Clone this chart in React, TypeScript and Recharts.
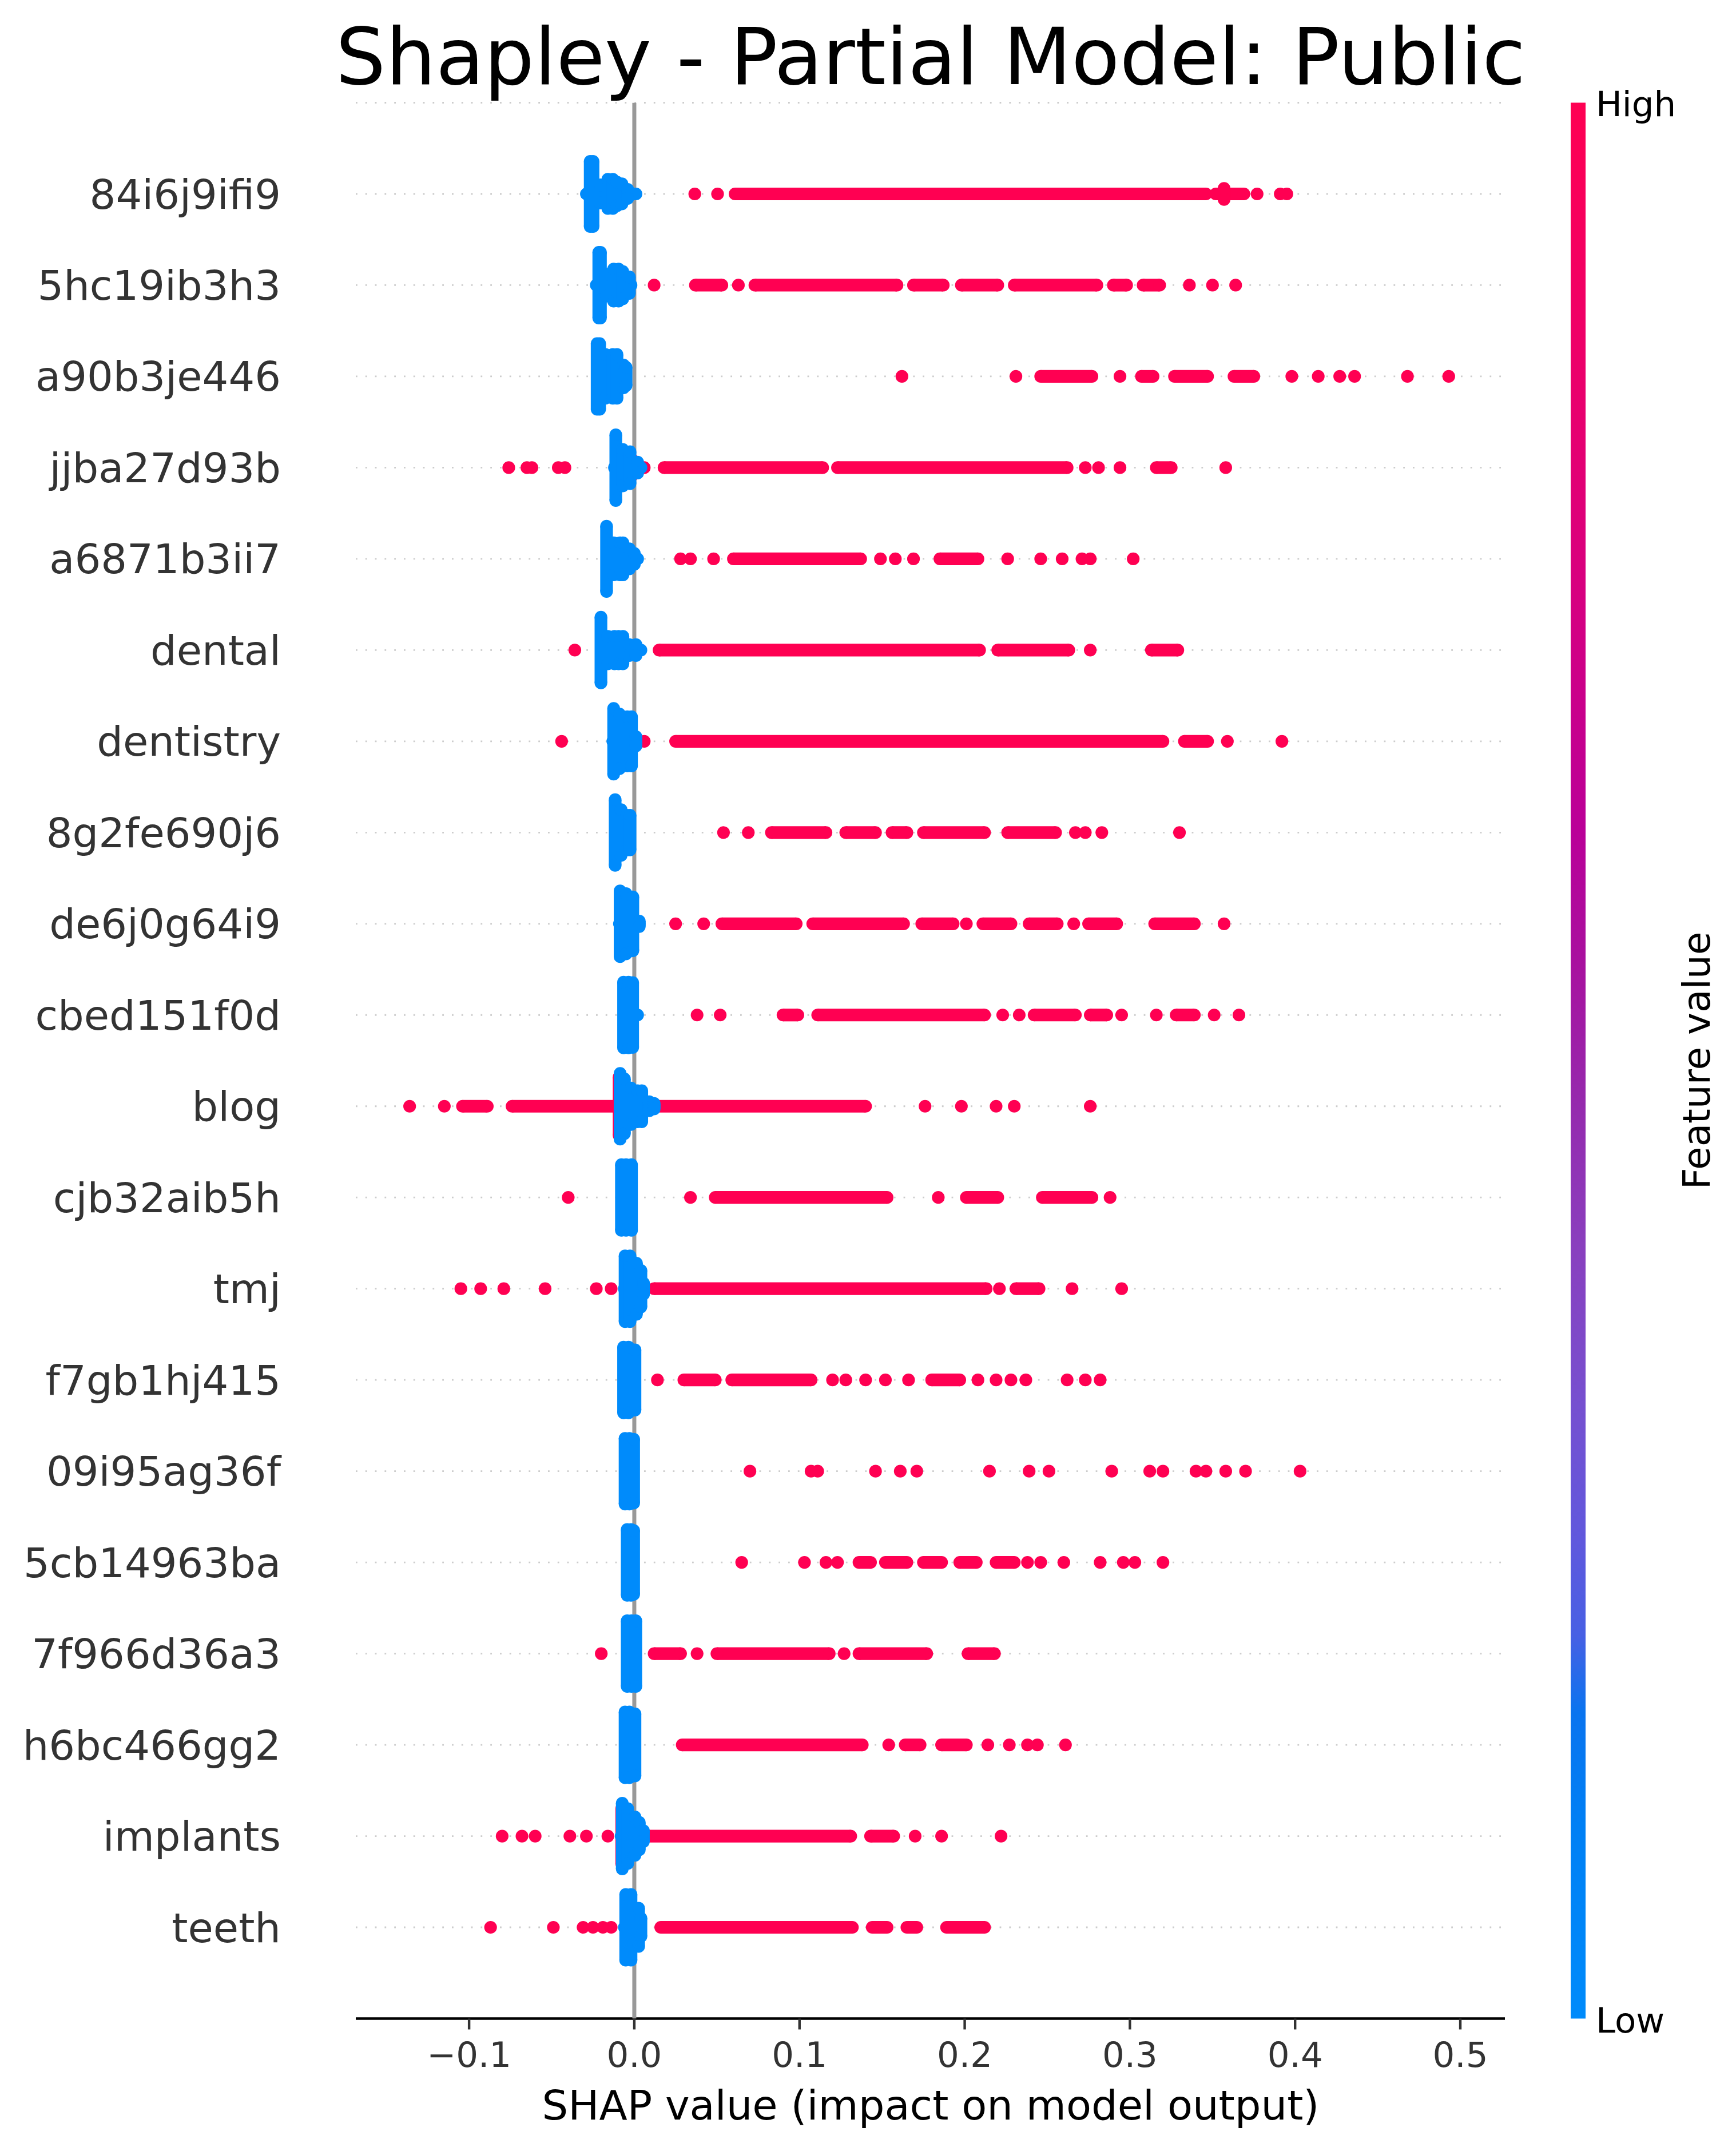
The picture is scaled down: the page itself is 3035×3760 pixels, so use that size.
import { CartesianGrid, Scatter, ScatterChart, XAxis, YAxis } from 'recharts';

const FEATURES = [
  '84i6j9ifi9', '5hc19ib3h3', 'a90b3je446', 'jjba27d93b', 'a6871b3ii7',
  'dental', 'dentistry', '8g2fe690j6', 'de6j0g64i9', 'cbed151f0d',
  'blog', 'cjb32aib5h', 'tmj', 'f7gb1hj415', '09i95ag36f',
  '5cb14963ba', '7f966d36a3', 'h6bc466gg2', 'implants', 'teeth',
];

const X_TICKS = [-0.1, 0, 0.1, 0.2, 0.3, 0.4, 0.5];
const ROW_TICKS = FEATURES.map((_, i) => i);

// isolated high-value (red) SHAP points, one list per feature row
const RED_DOTS: number[][] = [
  [0.0366, 0.0504, 0.377, 0.391, 0.395],
  [0.012, 0.063, 0.336, 0.35, 0.364],
  [0.162, 0.231, 0.294, 0.398, 0.414, 0.427, 0.436, 0.468, 0.493],
  [-0.076, -0.065, -0.062, -0.046, -0.042, 0.006, 0.273, 0.281, 0.294, 0.358],
  [0.028, 0.034, 0.048, 0.149, 0.158, 0.169, 0.226, 0.246, 0.259, 0.271, 0.276, 0.302],
  [-0.036, 0.276],
  [-0.044, 0.006, 0.359, 0.392],
  [0.054, 0.069, 0.267, 0.273, 0.283, 0.33],
  [0.025, 0.042, 0.201, 0.266, 0.357],
  [0.038, 0.052, 0.223, 0.233, 0.295, 0.316, 0.351, 0.366],
  [-0.136, -0.115, 0.176, 0.198, 0.219, 0.23, 0.276],
  [-0.04, 0.034, 0.184, 0.288],
  [-0.105, -0.093, -0.079, -0.054, -0.023, -0.014, 0.221, 0.265, 0.295],
  [0.014, 0.12, 0.128, 0.14, 0.152, 0.166, 0.208, 0.219, 0.228, 0.237, 0.262, 0.273, 0.282],
  [0.07, 0.107, 0.111, 0.146, 0.161, 0.171, 0.215, 0.239, 0.251, 0.289, 0.312, 0.32, 0.34, 0.346, 0.358, 0.37, 0.403],
  [0.065, 0.103, 0.116, 0.123, 0.238, 0.246, 0.26, 0.282, 0.296, 0.303, 0.32],
  [-0.02, 0.038, 0.127],
  [0.154, 0.214, 0.227, 0.238, 0.244, 0.261],
  [-0.08, -0.068, -0.06, -0.039, -0.029, -0.016, 0.17, 0.186, 0.222],
  [-0.087, -0.049, -0.031, -0.025, -0.019, -0.014],
];

// dense stretches of red points: [row, from, to]
const RED_RUNS: [number, number, number][] = [
  [0, 0.061, 0.346], [0, 0.352, 0.369],
  [1, 0.037, 0.053], [1, 0.073, 0.159], [1, 0.169, 0.187], [1, 0.198, 0.22], [1, 0.23, 0.28], [1, 0.29, 0.298], [1, 0.308, 0.318],
  [2, 0.246, 0.277], [2, 0.307, 0.314], [2, 0.327, 0.347], [2, 0.363, 0.375],
  [3, 0.018, 0.114], [3, 0.123, 0.262], [3, 0.316, 0.325],
  [4, 0.06, 0.137], [4, 0.185, 0.208],
  [5, 0.015, 0.209], [5, 0.22, 0.263], [5, 0.313, 0.329],
  [6, 0.025, 0.32], [6, 0.333, 0.347],
  [7, 0.083, 0.116], [7, 0.128, 0.146], [7, 0.156, 0.165], [7, 0.175, 0.212], [7, 0.226, 0.255],
  [8, 0.053, 0.098], [8, 0.108, 0.163], [8, 0.174, 0.193], [8, 0.211, 0.228], [8, 0.239, 0.256], [8, 0.275, 0.292], [8, 0.315, 0.339],
  [9, 0.09, 0.099], [9, 0.111, 0.212], [9, 0.242, 0.267], [9, 0.276, 0.286], [9, 0.328, 0.339],
  [10, -0.104, -0.089], [10, -0.074, 0.14],
  [11, 0.049, 0.153], [11, 0.201, 0.22], [11, 0.247, 0.277],
  [12, 0.012, 0.213], [12, 0.231, 0.245],
  [13, 0.03, 0.049], [13, 0.059, 0.107], [13, 0.18, 0.197],
  [15, 0.136, 0.143], [15, 0.152, 0.165], [15, 0.175, 0.186], [15, 0.197, 0.207], [15, 0.219, 0.23],
  [16, 0.012, 0.028], [16, 0.05, 0.118], [16, 0.136, 0.177], [16, 0.202, 0.218],
  [17, 0.029, 0.138], [17, 0.164, 0.173], [17, 0.186, 0.201],
  [18, 0.007, 0.131], [18, 0.143, 0.157],
  [19, 0.016, 0.132], [19, 0.144, 0.153], [19, 0.165, 0.171], [19, 0.189, 0.212],
];

// vertical pile-ups (beeswarm spread): [row, x, half spread in row units]
const RED_STACKS: [number, number, number][] = [
  [0, 0.357, 0.06], [3, -0.001, 0.08], [10, -0.0092, 0.32], [18, -0.0076, 0.3],
];

const BLUE_STACKS: [number, number, number][] = [
  [0, -0.0267, 0.357], [0, -0.025, 0.357], [0, -0.0205, 0.1], [0, -0.016, 0.16], [0, -0.013, 0.16], [0, -0.0105, 0.13], [0, -0.0075, 0.11], [0, -0.004, 0.05],
  [1, -0.0215, 0.36], [1, -0.0205, 0.36], [1, -0.017, 0.12], [1, -0.0125, 0.176], [1, -0.0095, 0.176], [1, -0.007, 0.15], [1, -0.003, 0.09],
  [2, -0.0225, 0.36], [2, -0.021, 0.36], [2, -0.0175, 0.24], [2, -0.013, 0.24], [2, -0.0105, 0.24], [2, -0.0065, 0.125], [2, -0.005, 0.1],
  [3, -0.0112, 0.36], [3, -0.007, 0.2], [3, -0.0026, 0.175], [3, 0.002, 0.06],
  [4, -0.0168, 0.357], [4, -0.0125, 0.175], [4, -0.0086, 0.175], [4, -0.0069, 0.175], [4, -0.003, 0.11], [4, 0.0, 0.06],
  [5, -0.0202, 0.36], [5, -0.016, 0.15], [5, -0.012, 0.15], [5, -0.0095, 0.15], [5, -0.0069, 0.15], [5, -0.003, 0.06], [5, 0.001, 0.06],
  [6, -0.0125, 0.36], [6, -0.009, 0.3], [6, -0.0043, 0.27], [6, -0.0017, 0.27], [6, 0.001, 0.05],
  [7, -0.0116, 0.36], [7, -0.008, 0.25], [7, -0.0045, 0.19], [7, -0.0026, 0.19],
  [8, -0.0086, 0.36], [8, -0.005, 0.33], [8, -0.0009, 0.295], [8, 0.003, 0.03],
  [9, -0.0065, 0.36], [9, -0.0035, 0.36], [9, -0.001, 0.355],
  [10, -0.0086, 0.36], [10, -0.006, 0.3], [10, -0.002, 0.2], [10, 0.002, 0.17], [10, 0.0045, 0.17], [10, 0.009, 0.05], [10, 0.012, 0.03],
  [11, -0.0078, 0.36], [11, -0.005, 0.36], [11, -0.0017, 0.36],
  [12, -0.0056, 0.36], [12, -0.0026, 0.36], [12, 0.0013, 0.28], [12, 0.004, 0.2], [12, 0.0056, 0.06],
  [13, -0.0065, 0.36], [13, -0.0035, 0.36], [13, 0.0004, 0.33],
  [14, -0.0056, 0.36], [14, -0.003, 0.36], [14, -0.0004, 0.35],
  [15, -0.0043, 0.36], [15, -0.002, 0.36], [15, -0.0004, 0.35],
  [16, -0.0043, 0.36], [16, -0.0017, 0.36], [16, 0.0009, 0.36],
  [17, -0.0056, 0.36], [17, -0.003, 0.36], [17, 0.0004, 0.34],
  [18, -0.0073, 0.36], [18, -0.004, 0.3], [18, 0.0004, 0.21], [18, 0.003, 0.15], [18, 0.0055, 0.06],
  [19, -0.0052, 0.36], [19, -0.002, 0.36], [19, 0.0026, 0.21], [19, 0.004, 0.1],
];

// horizontal blue blobs at the row centre: [row, from, to]
const BLUE_RUNS: [number, number, number][] = [
  [0, -0.029, 0.001], [1, -0.023, -0.002], [3, -0.012, 0.004], [4, -0.016, 0.002],
  [5, -0.02, 0.004], [6, -0.013, 0.001], [8, -0.009, 0.003], [9, -0.006, 0.002],
  [10, -0.008, 0.012], [12, -0.006, 0.005], [18, -0.008, 0.005], [19, -0.006, 0.003],
];

const W = 3035;
const H = 3760;
const FONT = 'DejaVu Sans, sans-serif';
const RED = '#ff0052';
const BLUE = '#008bfb';
const DOT = 22.2;

type Pt = { x: number; y: number };

const dotShape = (color: string) => (p: any) => (
  <circle cx={p.cx} cy={p.cy} r={DOT / 2} fill={color} />
);

function band(key: string, color: string, data: Pt[]) {
  return (
    <Scatter
      key={key}
      data={data}
      line={{ stroke: color, strokeWidth: DOT, fill: 'none' }}
      shape={dotShape(color)}
      isAnimationActive={false}
    />
  );
}

const runPts = ([row, a, b]: [number, number, number]): Pt[] => [
  { x: a, y: row },
  { x: b, y: row },
];
const stackPts = ([row, x, h]: [number, number, number]): Pt[] => [
  { x, y: row - h },
  { x, y: row + h },
];

const redDots = RED_DOTS.flatMap((xs, row) => xs.map((x) => ({ x, y: row })));

const fmtX = (v: number) => (v < 0 ? '\u2212' + Math.abs(v).toFixed(1) : v.toFixed(1));

export default function App() {
  return (
    <div style={{ position: 'absolute', left: 0, top: 0, width: W, height: H, background: '#fff' }}>
      <ScatterChart
        width={W}
        height={H}
        margin={{ top: 179.5, right: 404, bottom: 171.5, left: 0 }}
      >
        <CartesianGrid
          vertical={false}
          stroke="#cccccc"
          strokeWidth={2.8}
          strokeDasharray="2.8 14"
        />
        <XAxis
          type="number"
          dataKey="x"
          domain={[-0.1686, 0.527]}
          allowDataOverflow
          ticks={X_TICKS}
          interval={0}
          tickFormatter={fmtX}
          height={60}
          axisLine={{ stroke: '#000000', strokeWidth: 4.4 }}
          tickLine={{ stroke: '#333333', strokeWidth: 4.4 }}
          tickSize={19}
          tickMargin={22.5}
          tick={{ fontSize: 61, fill: '#333333', fontFamily: FONT }}
        />
        <YAxis
          type="number"
          dataKey="y"
          domain={[-1, 20]}
          reversed
          allowDataOverflow
          ticks={ROW_TICKS}
          interval={0}
          tickFormatter={(v: number) => FEATURES[v] ?? ''}
          width={622}
          axisLine={false}
          tickLine={false}
          tickSize={0}
          tickMargin={131}
          tick={{ fontSize: 72, fill: '#333333', fontFamily: FONT }}
        />
        <Scatter
          data={[{ x: 0, y: -1 }, { x: 0, y: 20 }]}
          line={{ stroke: '#999999', strokeWidth: 7, fill: 'none' }}
          shape={() => <g />}
          isAnimationActive={false}
        />
        {RED_RUNS.map((r, i) => band('rr' + i, RED, runPts(r)))}
        {RED_STACKS.map((s, i) => band('rs' + i, RED, stackPts(s)))}
        <Scatter data={redDots} shape={dotShape(RED)} isAnimationActive={false} />
        {BLUE_RUNS.map((r, i) => band('br' + i, BLUE, runPts(r)))}
        {BLUE_STACKS.map((s, i) => band('bs' + i, BLUE, stackPts(s)))}
      </ScatterChart>
      <svg
        width={W}
        height={H}
        style={{ position: 'absolute', left: 0, top: 0, pointerEvents: 'none' }}
        fontFamily={FONT}
      >
        <defs>
          <linearGradient id="cbar" x1="0" y1="0" x2="0" y2="1">
            <stop offset="0" stopColor="#ff0052" />
            <stop offset="0.12" stopColor="#ef0067" />
            <stop offset="0.25" stopColor="#d8007f" />
            <stop offset="0.38" stopColor="#ba0098" />
            <stop offset="0.45" stopColor="#a8119f" />
            <stop offset="0.52" stopColor="#9629ad" />
            <stop offset="0.6" stopColor="#8940bf" />
            <stop offset="0.68" stopColor="#7650d0" />
            <stop offset="0.75" stopColor="#6058dd" />
            <stop offset="0.8" stopColor="#4760e4" />
            <stop offset="0.84" stopColor="#0a74ef" />
            <stop offset="0.9" stopColor="#0080f5" />
            <stop offset="1" stopColor="#008bfb" />
          </linearGradient>
        </defs>
        <text x={1627} y={147} fontSize={138} textAnchor="middle" fill="#000">
          Shapley - Partial Model: Public
        </text>
        <text x={1627} y={3705} fontSize={72} textAnchor="middle" fill="#000">
          SHAP value (impact on model output)
        </text>
        <rect x={2746} y={179.5} width={26} height={3349} fill="url(#cbar)" />
        <text x={2790} y={203} fontSize={61} fill="#000">High</text>
        <text x={2790} y={3553} fontSize={61} fill="#000">Low</text>
        <text
          x={0}
          y={0}
          fontSize={66}
          textAnchor="middle"
          fill="#000"
          transform="translate(2989, 1854) rotate(-90)"
        >
          Feature value
        </text>
      </svg>
    </div>
  );
}
